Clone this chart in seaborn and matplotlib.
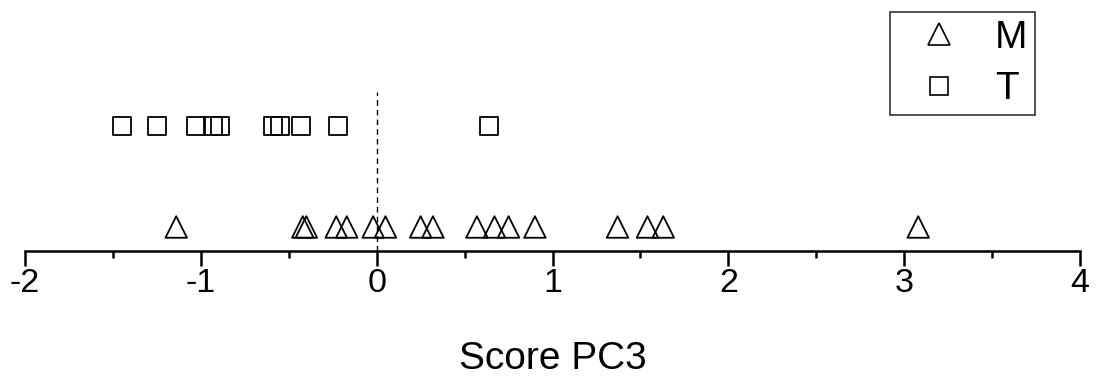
import numpy as np
import pandas as pd
import matplotlib
matplotlib.use("Agg")
import matplotlib.pyplot as plt
from matplotlib.lines import Line2D
from matplotlib.ticker import MultipleLocator
import seaborn as sns

# ---- data ----
m_scores = [-1.14, -0.42, -0.40, -0.23, -0.17, -0.02, 0.05, 0.25, 0.32,
            0.57, 0.67, 0.75, 0.90, 1.37, 1.54, 1.63, 3.08]
t_scores = [-1.45, -1.25, -1.03, -0.93, -0.89, -0.59, -0.55, -0.43, -0.22, 0.64]
groups = ["M", "T"]
x_ticks = [-2, -1, 0, 1, 2, 3, 4]
x_label = "Score PC3"

df = pd.DataFrame({
    "score": m_scores + t_scores,
    "group": ["M"] * len(m_scores) + ["T"] * len(t_scores),
})
row_pos = {"M": 0.0976, "T": 0.508}
df["row"] = df["group"].map(row_pos)
markers = {"M": "^", "T": "s"}
sizes = {"M": 15.5, "T": 13}

sns.set_theme(style="white")
plt.rcParams["font.family"] = ["Liberation Sans", "DejaVu Sans"]
plt.rcParams["text.color"] = "black"
plt.rcParams["axes.labelcolor"] = "black"
plt.rcParams["xtick.color"] = "black"

fig = plt.figure(figsize=(10.98, 3.79), dpi=100)
ax = fig.add_axes([25 / 1098, 1 - 251 / 379, (1080 - 25) / 1098, 246 / 379])

for g in groups:
    sub = df[df["group"] == g]
    sns.scatterplot(data=sub, x="score", y="row", marker=markers[g],
                    s=sizes[g] ** 2, ax=ax, legend=False,
                    facecolor="none", edgecolor="black", linewidth=1.3)
for coll in ax.collections:
    coll.set_facecolor("none")
    coll.set_edgecolor("black")
    coll.set_linewidth(1.3)

ax.axvline(0, ymin=0, ymax=0.646, color="black", lw=1.0, ls=(0, (4, 3)))

ax.set_xlim(x_ticks[0], x_ticks[-1])
ax.set_ylim(0, 1)
ax.set_xticks(x_ticks)
ax.set_xticklabels([str(t) for t in x_ticks])
ax.xaxis.set_minor_locator(MultipleLocator(0.5))
ax.set_yticks([])
for s in ["top", "left", "right"]:
    ax.spines[s].set_visible(False)
ax.spines["bottom"].set_color("black")
ax.spines["bottom"].set_linewidth(1.8)
ax.tick_params(axis="x", which="major", direction="out", length=10.5, width=1.8,
               color="black", labelcolor="black", labelsize=24.5, pad=2, bottom=True)
ax.tick_params(axis="x", which="minor", direction="out", length=5, width=1.8,
               color="black", bottom=True)
ax.set_xlabel(x_label, fontsize=28, labelpad=30, color="black")
ax.set_ylabel("")
ax.patch.set_alpha(0)

handles = [Line2D([], [], linestyle="none", marker=markers[g],
                  markersize=sizes[g] * (1.0 if g == "M" else 0.95),
                  markerfacecolor="none", markeredgecolor="black", markeredgewidth=1.2)
           for g in groups]
leg = fig.legend(handles, groups, loc="upper left",
                 bbox_to_anchor=(890 / 1098, 1 - 12 / 379), bbox_transform=fig.transFigure,
                 fontsize=28, frameon=True, fancybox=False, borderpad=0.2,
                 handlelength=2.1, handletextpad=0.4, labelspacing=0.4,
                 borderaxespad=0)
leg.get_frame().set_edgecolor("black")
leg.get_frame().set_linewidth(1.2)
for t in leg.get_texts():
    t.set_color("black")

fig.savefig("out.png", dpi=100, facecolor="white")
